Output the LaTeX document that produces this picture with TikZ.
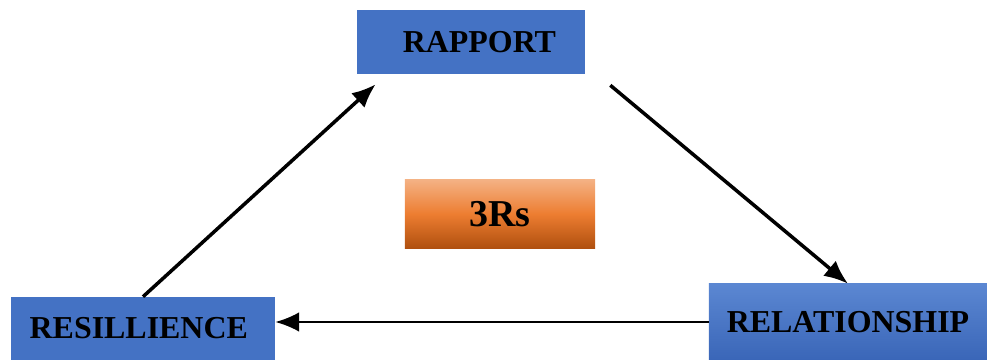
\documentclass[tikz,border=0pt]{standalone}
\usepackage{fontspec}
\setmainfont{Liberation Serif}
\usetikzlibrary{arrows.meta, positioning}

\definecolor{boxblue}{HTML}{4472C4}
\definecolor{boxbluelight}{HTML}{5B87D2}
\definecolor{boxbluedark}{HTML}{3A66B8}
\definecolor{ortop}{HTML}{F4B183}
\definecolor{ormid}{HTML}{ED7D31}
\definecolor{orbot}{HTML}{B0500F}

\tikzset{
  rbox/.style={fill=boxblue, inner sep=0pt, font=\fontsize{22.7}{26}\selectfont\bfseries},
  flow/.style={-{Latex[length=17pt,width=14pt]}, line width=2.5pt},
}

\begin{document}
\begin{tikzpicture}[x=0.025cm, y=-0.025cm]
    \useasboundingbox (0,0) rectangle (987,360);

    % The three R boxes
    \node[rbox, minimum width=5.7cm, minimum height=1.6cm] (rap) at (471,42) {\hspace*{12pt}RAPPORT};
    \node[rbox, minimum width=6.6cm, minimum height=1.575cm] (res) at (143,328.5) {RESILLIENCE\hspace*{6pt}};
    \node[rbox, top color=boxbluelight, bottom color=boxbluedark, minimum width=6.95cm, minimum height=1.9cm] (rel) at (848,322) {RELATIONSHIP};

    % Centre label
    \node[rbox, top color=ortop, bottom color=orbot, middle color=ormid, minimum width=4.75cm, minimum height=1.7cm, font=\fontsize{27}{30}\selectfont\bfseries] (three) at (500,214) {3Rs};

    % Cycle arrows
    \draw[flow] (res.north) -- ([shift={(19,10)}]rap.south west);
    \draw[flow] ([shift={(25,11)}]rap.south east) -- (rel.north);
    \draw[flow, line width=1.6pt] (rel.west) -- (rel.west -| res.east);
\end{tikzpicture}
\end{document}
